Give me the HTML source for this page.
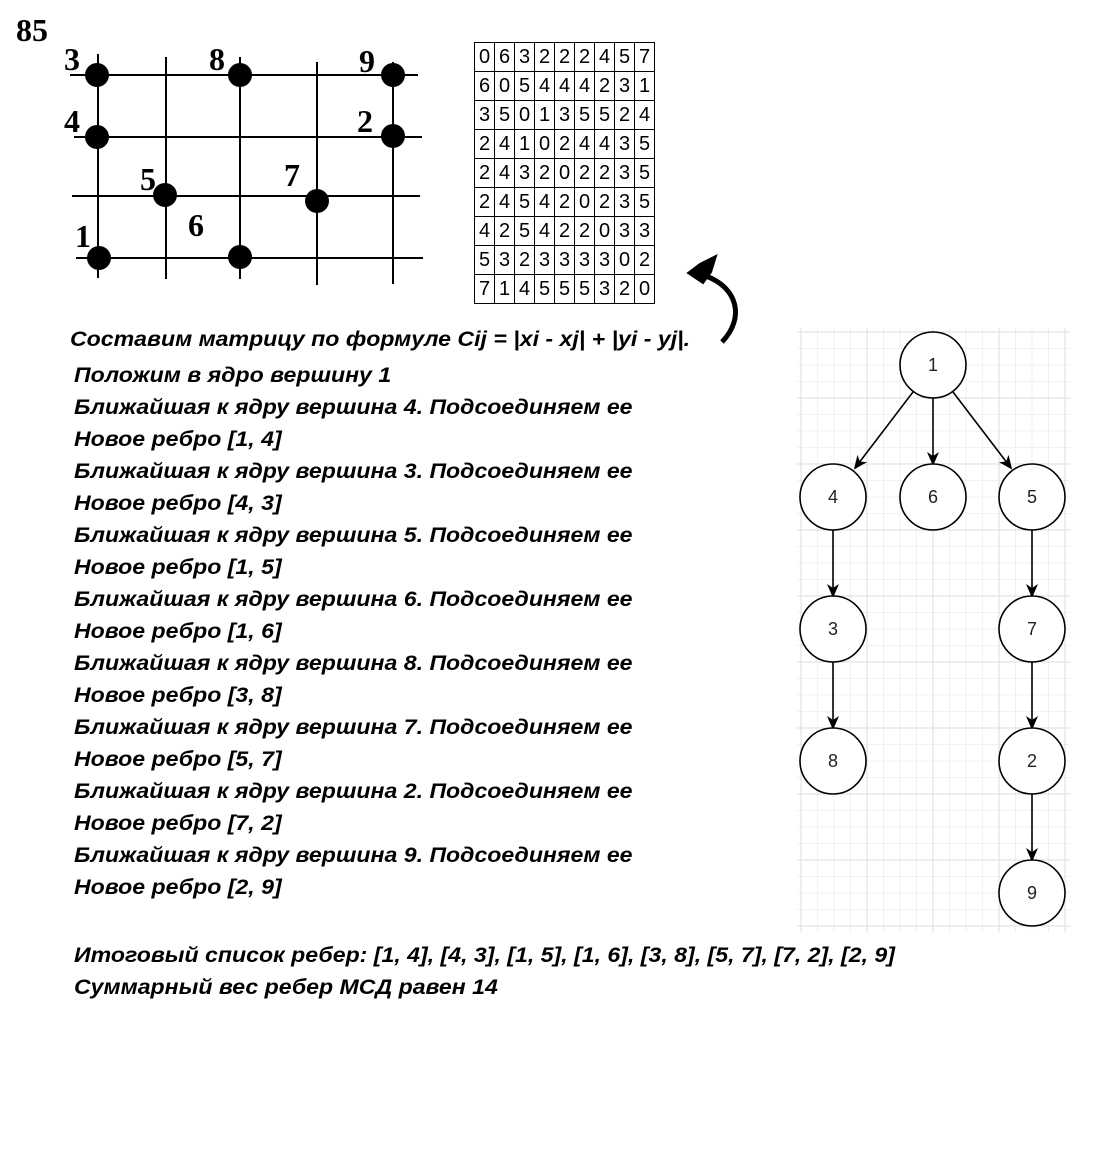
<!DOCTYPE html>
<html><head><meta charset="utf-8"><style>
body{margin:0;width:1114px;height:1152px;background:#fff;position:relative;overflow:hidden}
.t{position:absolute;font-family:"Liberation Sans",sans-serif;font-weight:bold;font-style:italic;font-size:21px;color:#000;white-space:nowrap;line-height:24px;transform:scaleX(1.1);transform-origin:0 50%}
table{position:absolute;left:474px;top:42px;border-collapse:collapse;font-family:"Liberation Sans",sans-serif;font-size:20px}
td{border:1px solid #000;width:19px;height:28px;padding:0;text-align:center;line-height:28px}
</style></head><body>
<svg width="1114" height="1152" style="position:absolute;left:0;top:0">
<defs><marker id="b" markerWidth="14" markerHeight="14" refX="12" refY="7" orient="auto" markerUnits="userSpaceOnUse" viewBox="0 0 14 14"><path d="M0 1L14 7L0 13L4 7Z" fill="#000"/></marker></defs>
<text x="16" y="41" font-family="Liberation Serif" font-weight="bold" font-size="32">85</text>
<g stroke="#000" stroke-width="2">
<line x1="70" y1="75" x2="418" y2="75"/><line x1="74" y1="137" x2="422" y2="137"/>
<line x1="72" y1="196" x2="420" y2="196"/><line x1="76" y1="258" x2="423" y2="258"/>
<line x1="98" y1="54" x2="98" y2="278"/><line x1="166" y1="57" x2="166" y2="279"/>
<line x1="240" y1="57" x2="240" y2="279"/><line x1="317" y1="62" x2="317" y2="285"/>
<line x1="393" y1="62" x2="393" y2="284"/>
</g>
<g fill="#000"><circle cx="97" cy="75" r="12"/><circle cx="97" cy="137" r="12"/><circle cx="165" cy="195" r="12"/><circle cx="99" cy="258" r="12"/><circle cx="240" cy="75" r="12"/><circle cx="240" cy="257" r="12"/><circle cx="317" cy="201" r="12"/><circle cx="393" cy="75" r="12"/><circle cx="393" cy="136" r="12"/></g>
<g font-family="Liberation Serif" font-weight="bold" font-size="32">
<text x="64" y="70">3</text><text x="209" y="70">8</text><text x="359" y="72">9</text>
<text x="64" y="132">4</text><text x="357" y="132">2</text><text x="140" y="190">5</text>
<text x="284" y="186">7</text><text x="188" y="236">6</text><text x="75" y="247">1</text></g>
<path d="M722 342 C745 318 738 288 706 276" fill="none" stroke="#000" stroke-width="5"/>
<path d="M688 273 L700 264 L716 256 L711 272 L703 283 Z" fill="#000" stroke="#000" stroke-width="2"/>
<g stroke="#f1f1f1" stroke-width="1" id="gm"></g>
<g stroke="#dcdcdc" stroke-width="1">
<line x1="801" y1="328" x2="801" y2="932"/><line x1="867" y1="328" x2="867" y2="932"/><line x1="933" y1="328" x2="933" y2="932"/><line x1="999" y1="328" x2="999" y2="932"/><line x1="1065" y1="328" x2="1065" y2="932"/>
<line x1="797" y1="332" x2="1070" y2="332"/><line x1="797" y1="398" x2="1070" y2="398"/><line x1="797" y1="464" x2="1070" y2="464"/><line x1="797" y1="530" x2="1070" y2="530"/><line x1="797" y1="596" x2="1070" y2="596"/><line x1="797" y1="662" x2="1070" y2="662"/><line x1="797" y1="728" x2="1070" y2="728"/><line x1="797" y1="794" x2="1070" y2="794"/><line x1="797" y1="860" x2="1070" y2="860"/><line x1="797" y1="926" x2="1070" y2="926"/>
</g>
<g stroke="#000" stroke-width="1.6" fill="none" marker-end="url(#b)">
<line x1="913" y1="392" x2="855" y2="468"/><line x1="933" y1="398" x2="933" y2="464"/><line x1="953" y1="392" x2="1011" y2="468"/>
<line x1="833" y1="530" x2="833" y2="596"/><line x1="833" y1="662" x2="833" y2="728"/>
<line x1="1032" y1="530" x2="1032" y2="596"/><line x1="1032" y1="662" x2="1032" y2="728"/><line x1="1032" y1="794" x2="1032" y2="860"/>
</g>
<g stroke="#000" stroke-width="1.6" fill="#fff">
<circle cx="933" cy="365" r="33"/><circle cx="833" cy="497" r="33"/><circle cx="933" cy="497" r="33"/><circle cx="1032" cy="497" r="33"/>
<circle cx="833" cy="629" r="33"/><circle cx="1032" cy="629" r="33"/><circle cx="833" cy="761" r="33"/><circle cx="1032" cy="761" r="33"/><circle cx="1032" cy="893" r="33"/>
</g>
<g font-family="Liberation Sans" font-size="18" text-anchor="middle" fill="#222">
<text x="933" y="371">1</text><text x="833" y="503">4</text><text x="933" y="503">6</text><text x="1032" y="503">5</text>
<text x="833" y="635">3</text><text x="1032" y="635">7</text><text x="833" y="767">8</text><text x="1032" y="767">2</text><text x="1032" y="899">9</text>
</g>
</svg>
<script>
var g=document.getElementById('gm'),s='';
for(var k=0;k<37;k++){var y=332+k*16.5;if(k%4)s+='<line x1="797" y1="'+y+'" x2="1070" y2="'+y+'"/>';}
for(var k=0;k<17;k++){var x=801+k*16.5;if(k%4)s+='<line x1="'+x+'" y1="328" x2="'+x+'" y2="932"/>';}
g.innerHTML=s;
</script>
<table>
<tr><td>0</td><td>6</td><td>3</td><td>2</td><td>2</td><td>2</td><td>4</td><td>5</td><td>7</td></tr>
<tr><td>6</td><td>0</td><td>5</td><td>4</td><td>4</td><td>4</td><td>2</td><td>3</td><td>1</td></tr>
<tr><td>3</td><td>5</td><td>0</td><td>1</td><td>3</td><td>5</td><td>5</td><td>2</td><td>4</td></tr>
<tr><td>2</td><td>4</td><td>1</td><td>0</td><td>2</td><td>4</td><td>4</td><td>3</td><td>5</td></tr>
<tr><td>2</td><td>4</td><td>3</td><td>2</td><td>0</td><td>2</td><td>2</td><td>3</td><td>5</td></tr>
<tr><td>2</td><td>4</td><td>5</td><td>4</td><td>2</td><td>0</td><td>2</td><td>3</td><td>5</td></tr>
<tr><td>4</td><td>2</td><td>5</td><td>4</td><td>2</td><td>2</td><td>0</td><td>3</td><td>3</td></tr>
<tr><td>5</td><td>3</td><td>2</td><td>3</td><td>3</td><td>3</td><td>3</td><td>0</td><td>2</td></tr>
<tr><td>7</td><td>1</td><td>4</td><td>5</td><td>5</td><td>5</td><td>3</td><td>2</td><td>0</td></tr>
</table>
<div class="t" style="left:70px;top:328px">Составим матрицу по формуле Cij = |xi - xj| + |yi - yj|.</div>
<div class="t" style="left:74px;top:364px">Положим в ядро вершину 1</div>
<div class="t" style="left:74px;top:396px">Ближайшая к ядру вершина 4. Подсоединяем ее</div>
<div class="t" style="left:74px;top:428px">Новое ребро [1, 4]</div>
<div class="t" style="left:74px;top:460px">Ближайшая к ядру вершина 3. Подсоединяем ее</div>
<div class="t" style="left:74px;top:492px">Новое ребро [4, 3]</div>
<div class="t" style="left:74px;top:524px">Ближайшая к ядру вершина 5. Подсоединяем ее</div>
<div class="t" style="left:74px;top:556px">Новое ребро [1, 5]</div>
<div class="t" style="left:74px;top:588px">Ближайшая к ядру вершина 6. Подсоединяем ее</div>
<div class="t" style="left:74px;top:620px">Новое ребро [1, 6]</div>
<div class="t" style="left:74px;top:652px">Ближайшая к ядру вершина 8. Подсоединяем ее</div>
<div class="t" style="left:74px;top:684px">Новое ребро [3, 8]</div>
<div class="t" style="left:74px;top:716px">Ближайшая к ядру вершина 7. Подсоединяем ее</div>
<div class="t" style="left:74px;top:748px">Новое ребро [5, 7]</div>
<div class="t" style="left:74px;top:780px">Ближайшая к ядру вершина 2. Подсоединяем ее</div>
<div class="t" style="left:74px;top:812px">Новое ребро [7, 2]</div>
<div class="t" style="left:74px;top:844px">Ближайшая к ядру вершина 9. Подсоединяем ее</div>
<div class="t" style="left:74px;top:876px">Новое ребро [2, 9]</div>
<div class="t" style="left:74px;top:944px">Итоговый список ребер: [1, 4], [4, 3], [1, 5], [1, 6], [3, 8], [5, 7], [7, 2], [2, 9]</div>
<div class="t" style="left:74px;top:976px">Суммарный вес ребер МСД равен 14</div>
</body></html>
